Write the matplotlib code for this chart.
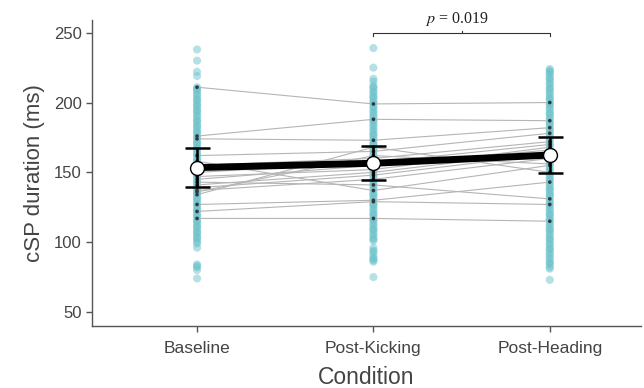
import matplotlib
matplotlib.use("Agg")
import matplotlib.pyplot as plt
import numpy as np

plt.rcParams["font.family"] = ["Liberation Sans", "DejaVu Sans"]
plt.rcParams["mathtext.fontset"] = "stix"

conditions = ["Baseline", "Post-Kicking", "Post-Heading"]

trials_baseline = [238, 230, 222, 219, 211, 210, 209, 208, 206, 205, 203, 202, 201, 199, 198,
                   197, 195, 194, 193, 191, 190, 188, 187, 186, 184, 183, 182, 180, 179, 178,
                   176, 175, 174, 172, 171, 170, 168, 167, 166, 164, 163, 162, 160, 159, 158,
                   156, 155, 154, 152, 151, 150, 148, 147, 146, 144, 143, 142, 140, 139, 138,
                   136, 135, 134, 132, 131, 130, 128, 127, 126, 124, 123, 122, 120, 119, 118,
                   116, 115, 114, 112, 111, 110, 108, 107, 106, 104, 103, 102, 100, 99,
                   96, 84, 83, 82, 80, 74]
trials_kicking = [239, 225, 217, 215, 212, 211, 210, 208, 207, 205, 204, 203, 201, 200, 199,
                  197, 196, 194, 193, 191, 190, 188, 187, 186, 184, 183, 181, 180, 178, 177,
                  176, 174, 173, 171, 170, 169, 167, 166, 165, 163, 162, 160, 159, 158, 156,
                  155, 153, 152, 151, 149, 148, 147, 145, 144, 142, 141, 140, 138, 137, 135,
                  134, 133, 131, 130, 128, 127, 126, 124, 123, 121, 120, 119, 117, 116, 115,
                  113, 112, 110, 109, 108, 106, 105, 103, 102, 101,
                  96, 94, 93, 91, 89, 88, 87, 86, 75]
trials_heading = [224, 223, 222, 221, 220, 218, 217, 216, 214, 213, 211, 210, 209, 207, 206,
                  204, 203, 202, 200, 199, 198, 196, 195, 193, 192, 191, 189, 188, 186, 185,
                  184, 182, 181, 180, 178, 177, 175, 174, 173, 171, 170, 169, 167, 166, 164,
                  163, 162, 160, 159, 157, 156, 155, 153, 152, 151, 149, 148, 146, 145, 144,
                  142, 141, 139, 138, 137, 135, 134, 133, 131, 130, 128, 127, 126, 124, 123,
                  121, 120, 119, 117, 116, 115, 113, 112, 110, 109, 108, 106, 105, 103, 102,
                  101, 99, 98, 96, 95, 94, 92, 91, 89, 88, 86, 85, 84, 82, 81, 73]

subj_baseline = [211, 176, 174, 162, 158, 155, 150, 147, 145, 141, 139, 137, 136, 134, 127, 122, 117, 143]
subj_kicking  = [199, 188, 173, 165, 137, 160, 157, 152, 155, 150, 148, 145, 162, 168, 130, 129, 117, 141]
subj_heading  = [200, 187, 182, 178, 155, 172, 170, 168, 166, 165, 163, 160, 156, 150, 143, 127, 115, 131]

means = [153.4, 156.5, 162.4]
errors = [14.0, 12.2, 13.1]

p_label = r"$p$ = 0.019"

fig = plt.figure(figsize=(6.44, 3.88), dpi=100)
ax = fig.add_axes([0.143, 0.16, 0.852, 0.788])

x = np.arange(1, len(conditions) + 1)
trial_sets = [trials_baseline, trials_kicking, trials_heading]
for xi, vals in zip(x, trial_sets):
    ax.scatter(np.full(len(vals), xi), vals, s=34, color="#6cc3cc", alpha=0.5,
               edgecolors="none", zorder=2)

subj = np.array([subj_baseline, subj_kicking, subj_heading])
for k in range(subj.shape[1]):
    ax.plot(x, subj[:, k], color="#b5b5b5", lw=0.8, zorder=3)
    ax.scatter(x, subj[:, k], s=7, color="#2f3b3e", zorder=4, edgecolors="none")

ax.plot(x, means, color="black", lw=5, zorder=5, solid_capstyle="butt")
ax.errorbar(x, means, yerr=errors, fmt="none", ecolor="black", elinewidth=1.8,
            capsize=9, capthick=1.8, zorder=6)
ax.plot(x, means, "o", markersize=10, markerfacecolor="white",
        markeredgecolor="black", markeredgewidth=1.0, zorder=7)

# significance bracket
yb = 249.8
ax.plot([2, 2, 3, 3], [yb - 1.8, yb, yb, yb - 1.8], color="#333333", lw=0.8, zorder=8,
        clip_on=False)
ax.plot([2.5, 2.5], [yb, yb + 1.2], color="#333333", lw=0.8, clip_on=False)
ax.text(2.47, 253.5, p_label, ha="center", va="bottom", fontsize=11.5,
        family="Liberation Serif", color="#222222")

ax.set_xlim(0.405, 3.516)
ax.set_ylim(40, 259)
ax.set_xticks(x)
ax.set_xticklabels(conditions)
ax.set_yticks([50, 100, 150, 200, 250])

for s in ["top", "right"]:
    ax.spines[s].set_visible(False)
for s in ["left", "bottom"]:
    ax.spines[s].set_color("#555555")
    ax.spines[s].set_linewidth(1.0)
ax.tick_params(axis="y", colors="#555555", length=4, width=1.0, labelsize=12,
               labelcolor="#444444")
ax.tick_params(axis="x", colors="#555555", length=4, width=1.0, labelsize=12.5,
               labelcolor="#444444", pad=7)
ax.set_ylabel("cSP duration (ms)", fontsize=16, color="#444444", labelpad=6)
ax.set_xlabel("Condition", fontsize=16.5, color="#444444", labelpad=7)

fig.savefig("out.png", dpi=100)
